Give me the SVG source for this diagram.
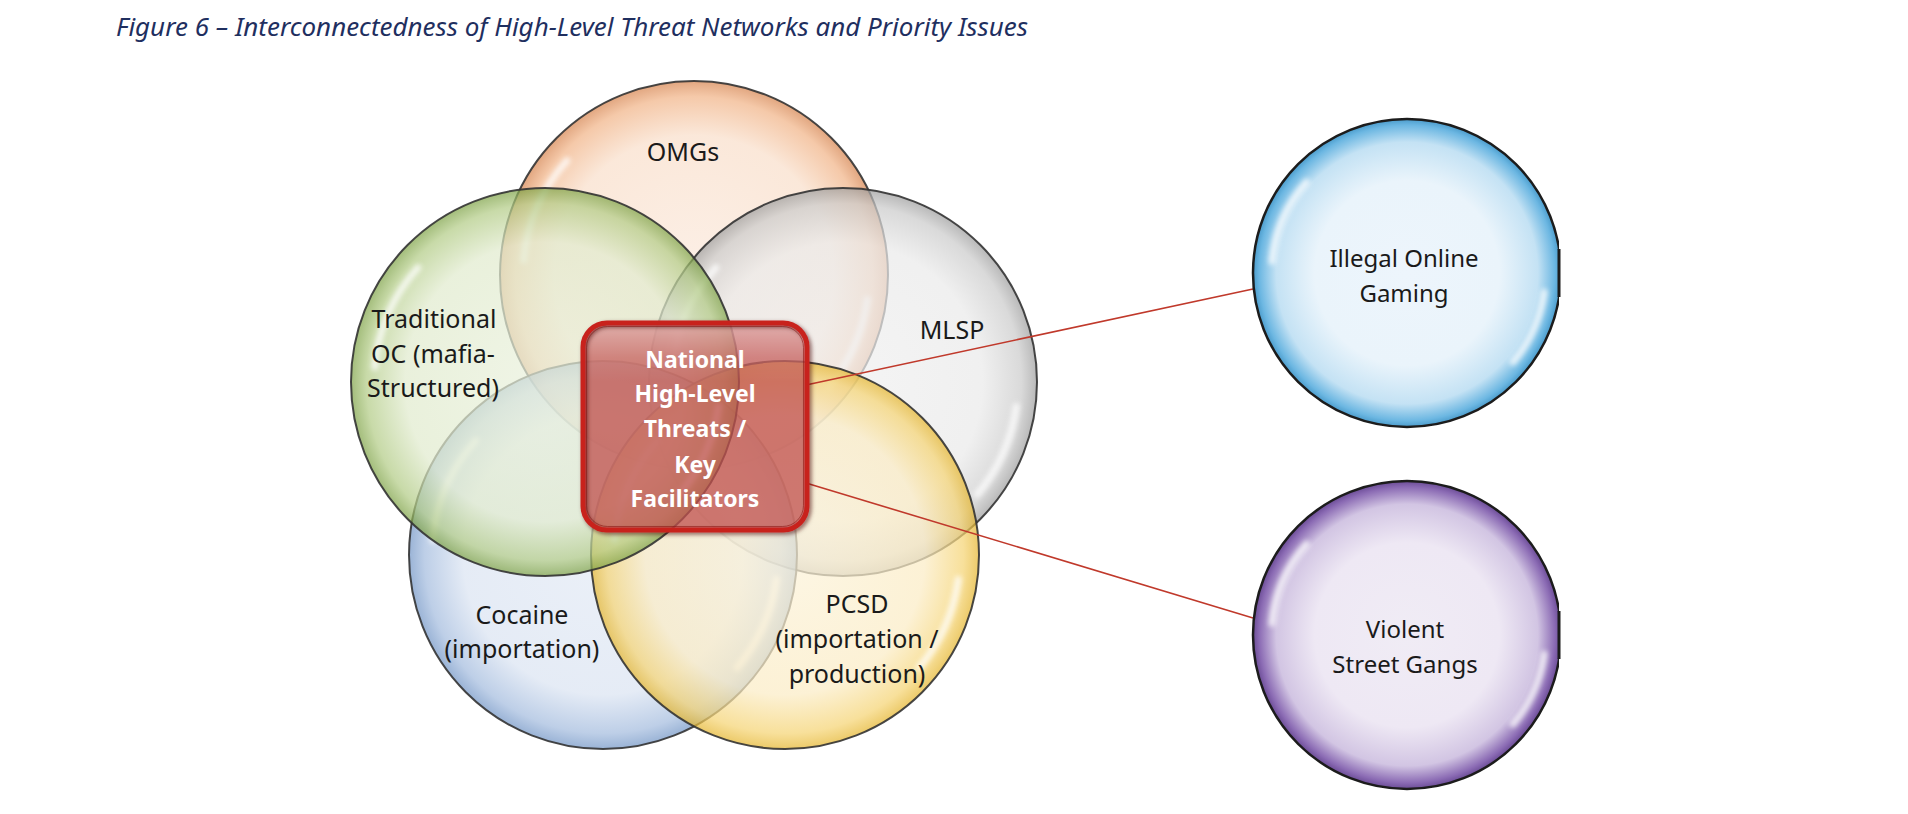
<svg xmlns="http://www.w3.org/2000/svg" xmlns:xlink="http://www.w3.org/1999/xlink" width="1908" height="814" viewBox="0 0 1908 814">
<style>
.lbl{font-family:"Noto Sans","Liberation Sans",sans-serif;font-size:25px;fill:#1a1a1a;text-anchor:middle}
.lbr{font-family:"Noto Sans","Liberation Sans",sans-serif;font-size:24px;fill:#1a1a1a;text-anchor:middle}
.boxt{font-family:"Noto Sans","Liberation Sans",sans-serif;font-size:23px;font-weight:bold;fill:#ffffff;text-anchor:middle}
.title{font-family:"Noto Sans","Liberation Sans",sans-serif;font-size:26px;font-style:italic;fill:#1F2F5F}
.venn{fill-opacity:0.72;stroke:#333333;stroke-opacity:0.9;stroke-width:2}
.ball{stroke:#1c1c1c;stroke-width:2.5}
.hl{fill:none;stroke:#ffffff;stroke-width:7;stroke-linecap:round;opacity:0.75;filter:url(#soft)}
.conn{stroke:#C0392B;stroke-width:1.6;fill:none}
</style>
<defs>
<filter id="soft" x="-20%" y="-20%" width="140%" height="140%"><feGaussianBlur stdDeviation="2.5"/></filter>
<filter id="shadow" x="-10%" y="-10%" width="130%" height="130%"><feDropShadow dx="2" dy="2" stdDeviation="2" flood-color="#400000" flood-opacity="0.6"/></filter>
<radialGradient id="gOrange"><stop offset="0" stop-color="#FBE9DC"/><stop offset="0.72" stop-color="#F9DFCB"/><stop offset="0.92" stop-color="#F1B488"/><stop offset="1" stop-color="#D6844F"/></radialGradient>
<radialGradient id="gGreen"><stop offset="0" stop-color="#EAF1DD"/><stop offset="0.72" stop-color="#E1EBCE"/><stop offset="0.92" stop-color="#B3CC87"/><stop offset="1" stop-color="#7FA348"/></radialGradient>
<radialGradient id="gGray"><stop offset="0" stop-color="#F0F0F0"/><stop offset="0.72" stop-color="#EAEAEA"/><stop offset="0.92" stop-color="#CBCBCB"/><stop offset="1" stop-color="#9E9E9E"/></radialGradient>
<radialGradient id="gBlue"><stop offset="0" stop-color="#E3EAF5"/><stop offset="0.72" stop-color="#DBE4F2"/><stop offset="0.92" stop-color="#A4BCDE"/><stop offset="1" stop-color="#7396C6"/></radialGradient>
<radialGradient id="gYellow"><stop offset="0" stop-color="#FCF3DA"/><stop offset="0.72" stop-color="#FBECC5"/><stop offset="0.92" stop-color="#F5D474"/><stop offset="1" stop-color="#E5B630"/></radialGradient>
<radialGradient id="gSky"><stop offset="0" stop-color="#EDF5FC"/><stop offset="0.6" stop-color="#EAF4FB"/><stop offset="0.85" stop-color="#C4E2F4"/><stop offset="0.96" stop-color="#6CB7E2"/><stop offset="1" stop-color="#4A9BCB"/></radialGradient>
<radialGradient id="gPurple"><stop offset="0" stop-color="#F0ECF5"/><stop offset="0.6" stop-color="#EEE8F4"/><stop offset="0.85" stop-color="#D2C5E3"/><stop offset="0.96" stop-color="#8B6BB4"/><stop offset="1" stop-color="#6B4C96"/></radialGradient>
<linearGradient id="gloss" x1="0" y1="0" x2="0" y2="1"><stop offset="0" stop-color="#ffffff" stop-opacity="0.4"/><stop offset="0.16" stop-color="#ffffff" stop-opacity="0.1"/><stop offset="0.28" stop-color="#ffffff" stop-opacity="0"/></linearGradient>
<path id="hl194" d="M -170.3 -14.9 A 171 171 0 0 1 -127.1 -114.4 M 173.3 24.4 A 175 175 0 0 1 134.1 112.5"/>
<path id="hl154" d="M -135 -11.8 A 135.5 135.5 0 0 1 -100.7 -90.7 M 137.3 19.3 A 138.6 138.6 0 0 1 106.2 89.1"/>
<clipPath id="clipR"><rect x="1200" y="0" width="359" height="814"/></clipPath>
</defs>
<rect width="1908" height="814" fill="#ffffff"/>
<text class="title" x="116" y="36" textLength="912" lengthAdjust="spacingAndGlyphs">Figure 6 – Interconnectedness of High-Level Threat Networks and Priority Issues</text>

<g id="omgs">
<circle class="venn" cx="694" cy="275" r="194" fill="url(#gOrange)"/>
<use href="#hl194" x="694" y="275" class="hl"/>
<text class="lbl" x="683" y="161">OMGs</text>
</g>
<g id="mlsp">
<circle class="venn" cx="843" cy="382" r="194" fill="url(#gGray)"/>
<use href="#hl194" x="843" y="382" class="hl"/>
<text class="lbl" x="952" y="339">MLSP</text>
</g>
<g id="cocaine">
<circle class="venn" cx="603" cy="555" r="194" fill="url(#gBlue)"/>
<use href="#hl194" x="603" y="555" class="hl"/>
<text class="lbl" x="522" y="624">Cocaine</text>
<text class="lbl" x="522" y="658">(importation)</text>
</g>
<g id="pcsd">
<circle class="venn" cx="785" cy="555" r="194" fill="url(#gYellow)"/>
<use href="#hl194" x="785" y="555" class="hl"/>
<text class="lbl" x="857" y="613">PCSD</text>
<text class="lbl" x="857" y="648">(importation /</text>
<text class="lbl" x="857" y="683">production)</text>
</g>
<g id="traditional-oc">
<circle class="venn" cx="545" cy="382" r="194" fill="url(#gGreen)"/>
<use href="#hl194" x="545" y="382" class="hl"/>
<text class="lbl" x="434" y="328">Traditional</text>
<text class="lbl" x="433" y="363">OC (mafia-</text>
<text class="lbl" x="433" y="397">Structured)</text>
</g>

<g id="connectors">
<line class="conn" x1="806" y1="385" x2="1253" y2="289"/>
<line class="conn" x1="806" y1="483" x2="1253" y2="618"/>
</g>

<g id="national-high-level-threats">
<rect x="583" y="323" width="224" height="207" rx="24" fill="#C0504D" fill-opacity="0.76"/>
<rect x="585" y="325" width="220" height="203" rx="22" fill="url(#gloss)"/>
<rect x="583" y="323" width="224" height="207" rx="24" fill="none" stroke="#C8201E" stroke-width="5" filter="url(#shadow)"/>
<rect x="586.5" y="326.5" width="217" height="200" rx="21" fill="none" stroke="#8E1512" stroke-width="1" stroke-opacity="0.6"/>
<text class="boxt" x="695" y="368">National</text>
<text class="boxt" x="695" y="402">High-Level</text>
<text class="boxt" x="695" y="437">Threats /</text>
<text class="boxt" x="695" y="473">Key</text>
<text class="boxt" x="695" y="507">Facilitators</text>
</g>

<g id="illegal-online-gaming">
<g clip-path="url(#clipR)">
<circle class="ball" cx="1407" cy="273" r="154" fill="url(#gSky)"/>
</g>
<line x1="1559" y1="249" x2="1559" y2="297" stroke="#1c1c1c" stroke-width="3"/>
<use href="#hl154" x="1407" y="273" class="hl"/>
<text class="lbr" x="1404" y="267">Illegal Online</text>
<text class="lbr" x="1404" y="302">Gaming</text>
</g>
<g id="violent-street-gangs">
<g clip-path="url(#clipR)">
<circle class="ball" cx="1407" cy="635" r="154" fill="url(#gPurple)"/>
</g>
<line x1="1559" y1="611" x2="1559" y2="659" stroke="#1c1c1c" stroke-width="3"/>
<use href="#hl154" x="1407" y="635" class="hl"/>
<text class="lbr" x="1405" y="638">Violent</text>
<text class="lbr" x="1405" y="673">Street Gangs</text>
</g>
</svg>
